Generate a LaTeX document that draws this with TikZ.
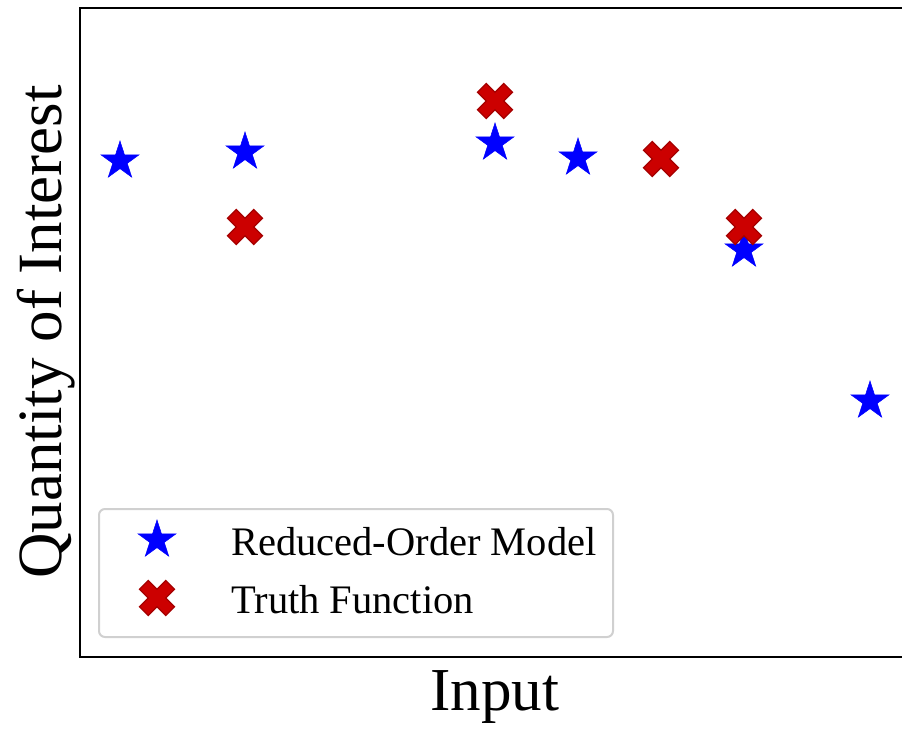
\documentclass[tikz,border=0pt]{standalone}
\usepackage{fontspec}
\setmainfont{Liberation Serif}
\usetikzlibrary{shapes.geometric}
\definecolor{romblue}{RGB}{0,0,255}
\definecolor{tffill}{RGB}{204,0,0}
\definecolor{tfedge}{RGB}{165,0,0}
\definecolor{legframe}{RGB}{208,208,208}
\tikzset{
  rom/.style={star, star points=5, star point ratio=2.618, minimum size=40pt,
    inner sep=0pt, fill=romblue, draw=romblue, line width=0.5pt},
  tfmark/.pic={\filldraw[fill=tffill, draw=tfedge, line width=1.2pt]
    (-8.7,-17.5) -- (0,-8.8) -- (8.7,-17.5) -- (17.5,-8.7) -- (8.8,0) -- (17.5,8.7)
    -- (8.7,17.5) -- (0,8.8) -- (-8.7,17.5) -- (-17.5,8.7) -- (-8.8,0) -- (-17.5,-8.7) -- cycle;},
  axlabel/.style={font=\fontsize{61}{70}\selectfont, inner sep=0pt},
  legtext/.style={font=\fontsize{40.5}{48}\selectfont, inner sep=0pt, anchor=base west}
}

\begin{document}
\begin{tikzpicture}[x=1pt, y=-1pt]
  \useasboundingbox (0,0) rectangle (902,730);

  % axes frame (right side runs off the page)
  \coordinate (tr) at (902,8);
  \coordinate (tl) at (79.5,8);
  \coordinate (bl) at (79.5,657);
  \coordinate (br) at (902,657);
  \draw[line width=2pt] (tr) -- (tl) -- (bl) -- (br);

  % reduced-order model
  \node[rom] (r1) at (120,161) {};
  \node[rom] (r2) at (245,152) {};
  \node[rom] (r3) at (495,143) {};
  \node[rom] (r4) at (578,158) {};
  \node[rom] (r5) at (744,250) {};
  \node[rom] (r6) at (870,401) {};

  % truth function
  \pic at (245,227) {tfmark};
  \pic at (495,101) {tfmark};
  \pic at (661,159) {tfmark};
  \pic at (744,227) {tfmark};

  % labels
  \node[axlabel, anchor=base] (xlab) at (495,710) {Input};
  \node[axlabel, font=\fontsize{63}{72}\selectfont, rotate=90, anchor=base] (ylab) at (61,332) {Quantity of Interest};

  % legend
  \draw[legframe, line width=2pt, rounded corners=6pt, fill=white]
    (99,509) rectangle (613,637);
  \node[rom] (legrom) at (157,540) {};
  \pic at (157,598) {tfmark};
  \node[legtext] (romtext) at (231,555) {Reduced-Order Model};
  \node[legtext] (tftext) at (231,613) {Truth Function};
\end{tikzpicture}
\end{document}
